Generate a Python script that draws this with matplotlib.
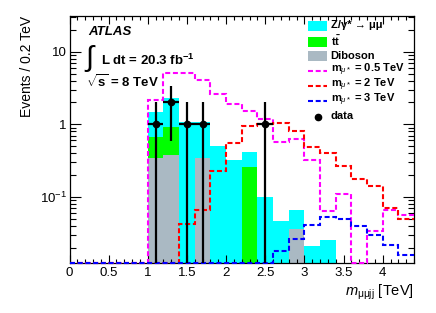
import numpy as np
import matplotlib
matplotlib.use("Agg")
import matplotlib.pyplot as plt
from matplotlib.patches import Rectangle
from matplotlib.lines import Line2D
from matplotlib.ticker import MultipleLocator, LogLocator, FixedLocator, FixedFormatter

plt.rcParams['font.family'] = ['Liberation Sans', 'DejaVu Sans']
plt.rcParams['mathtext.fontset'] = 'custom'
plt.rcParams['mathtext.rm'] = 'Liberation Sans'
plt.rcParams['mathtext.it'] = 'Liberation Sans:italic'
plt.rcParams['mathtext.bf'] = 'Liberation Sans:bold'

# bins of 0.2 TeV from 0 to 4.4
edges = np.round(np.arange(0, 4.41, 0.2), 2)

# backgrounds (events per bin)
zjets = [0, 0, 0, 0, 0, 0.80, 1.40, 1.07, 0.73, 0.50, 0.32, 0.15, 0.10, 0.046, 0.029, 0.021, 0.0257,
         0, 0, 0, 0, 0]
ttbar = [0, 0, 0, 0, 0, 0.33, 0.55, 0, 0, 0, 0, 0.26, 0, 0, 0, 0, 0, 0, 0, 0, 0, 0]
diboson = [0, 0, 0, 0, 0, 0.345, 0.38, 0, 0.34, 0, 0, 0, 0, 0, 0.036, 0, 0, 0, 0, 0, 0, 0]

# signal hypotheses
sig_05 = [0, 0, 0, 0, 0, 2.16, 5.1, 5.1, 4.1, 2.6, 1.93, 1.53, 1.2, 0.57, 0.63, 0.32, 0.063,
          0.11, 0, 0.034, 0.065, 0.057]
sig_2 = [0, 0, 0, 0, 0, 0, 0, 0.042, 0.067, 0.227, 0.56, 0.95, 1.02, 1.04, 0.81, 0.49, 0.40,
         0.263, 0.178, 0.14, 0.07, 0.05]
sig_3 = [0, 0, 0, 0, 0, 0, 0, 0, 0, 0, 0, 0, 0, 0.0177, 0.026, 0.041, 0.052, 0.049, 0.040,
         0.030, 0.022, 0.016]

# observed data
data_x = [1.1, 1.3, 1.5, 1.7, 2.5]
data_y = [1, 2, 1, 1, 1]

legend_labels = ['Z/γ* → μμ', r'$\mathbf{t\bar{t}}$', 'Diboson',
                 r'm$_{\mu*}$ = 0.5 TeV', r'm$_{\mu*}$ = 2 TeV', r'm$_{\mu*}$ = 3 TeV', 'data']

ymin, ymax = 0.0124, 31.3

zjets, ttbar, diboson = np.array(zjets), np.array(ttbar), np.array(diboson)
width = 0.2
dash = (0, (2.4, 1.3))
c_z, c_tt, c_db = '#00FFFF', '#00FF00', '#AAB9C3'
c_s = ['#FF00FF', '#FF0000', '#0000FF']

W, H = 436, 313
fig = plt.figure(figsize=(W / 100, H / 100), dpi=100)
ax = fig.add_axes([69.5 / W, (H - 262.7) / H, 344.5 / W, 247 / H])
ax.set_yscale('log')

ax.bar(edges[:-1], diboson, width=width, align='edge', color=c_db, linewidth=0)
ax.bar(edges[:-1], ttbar, width=width, align='edge', bottom=diboson, color=c_tt, linewidth=0)
ax.bar(edges[:-1], zjets, width=width, align='edge', bottom=diboson + ttbar, color=c_z, linewidth=0)

for vals, col in zip([sig_05, sig_2, sig_3], c_s):
    ax.stairs(np.clip(vals, ymin, None), edges, color=col, linewidth=1.5, linestyle=dash,
              baseline=None, clip_on=False, zorder=3)

data_y = np.array(data_y, dtype=float)
err = np.sqrt(data_y)
lower = data_y - np.maximum(data_y - err, 1e-4)
ax.errorbar(data_x, data_y, xerr=0.1, yerr=[lower, err], fmt='o', color='black',
            markersize=4.5, elinewidth=1.6, capsize=0, zorder=4)

ax.set_xlim(0, 4.4)
ax.set_ylim(ymin, ymax)

ax.xaxis.set_minor_locator(MultipleLocator(0.1))
ax.set_xticks([0, 0.5, 1, 1.5, 2, 2.5, 3, 3.5, 4])
ax.set_xticklabels(['0', '0.5', '1', '1.5', '2', '2.5', '3', '3.5', '4'])
ax.yaxis.set_major_locator(FixedLocator([0.1, 1, 10]))
ax.yaxis.set_major_formatter(FixedFormatter(['10$^{-1}$', '1', '10']))
ax.yaxis.set_minor_locator(LogLocator(base=10, subs=np.arange(2, 10)))
ax.yaxis.set_minor_formatter(plt.NullFormatter())

ax.tick_params(which='both', direction='in', top=True, right=True, labelsize=9.5, width=0.8)
ax.tick_params(axis='x', which='major', length=6, pad=3)
ax.tick_params(axis='x', which='minor', length=3)
ax.tick_params(axis='y', which='major', length=8, pad=2)
ax.tick_params(axis='y', which='minor', length=4)
for s in ax.spines.values():
    s.set_linewidth(0.9)

ax.set_xlabel(r'$m_{\mathrm{\mu\mu jj}}$ [TeV]', loc='right', fontsize=10.5, labelpad=3)
ax.set_ylabel('Events / 0.2 TeV', loc='top', fontsize=10, labelpad=4)


def fx(px):
    return px / W


def fy(py):
    return 1 - py / H


# ATLAS label
fig.text(fx(88), fy(32), 'ATLAS', fontsize=9.5, fontweight='bold', fontstyle='italic',
         va='center', ha='left')
fig.text(fx(84), fy(58), r'$\int$', fontsize=21, va='center', ha='left')
fig.text(fx(101), fy(60), 'L dt = 20.3 fb$^{\\mathbf{-1}}$', fontsize=9.5, fontweight='bold',
         va='center', ha='left')
fig.text(fx(86), fy(82), r'$\sqrt{\mathbf{s}}$ = 8 TeV', fontsize=9.5, fontweight='bold',
         va='center', ha='left')

# legend, drawn entry by entry
rows = [26, 41.5, 56.5, 70.5, 85.5, 100.5, 116.5]
hx0, hx1, tx = 307.5, 327, 330.5
for i, (lab, py) in enumerate(zip(legend_labels, rows)):
    if i < 3:
        fig.add_artist(Rectangle((fx(hx0), fy(py + 5)), fx(hx1) - fx(hx0), fy(py - 5) - fy(py + 5),
                                 transform=fig.transFigure, facecolor=[c_z, c_tt, c_db][i],
                                 edgecolor='none'))
    elif i < 6:
        fig.add_artist(Line2D([fx(hx0), fx(hx1)], [fy(py), fy(py)], transform=fig.transFigure,
                              color=c_s[i - 3], linewidth=1.5, linestyle=dash))
    else:
        fig.add_artist(Line2D([fx(318)], [fy(py)], transform=fig.transFigure, color='black',
                              marker='o', markersize=4.5, linestyle='none'))
    fig.text(fx(tx), fy(py - 0.5), lab, fontsize=8, fontweight='bold', va='center', ha='left')

fig.savefig('out.png', dpi=100)
